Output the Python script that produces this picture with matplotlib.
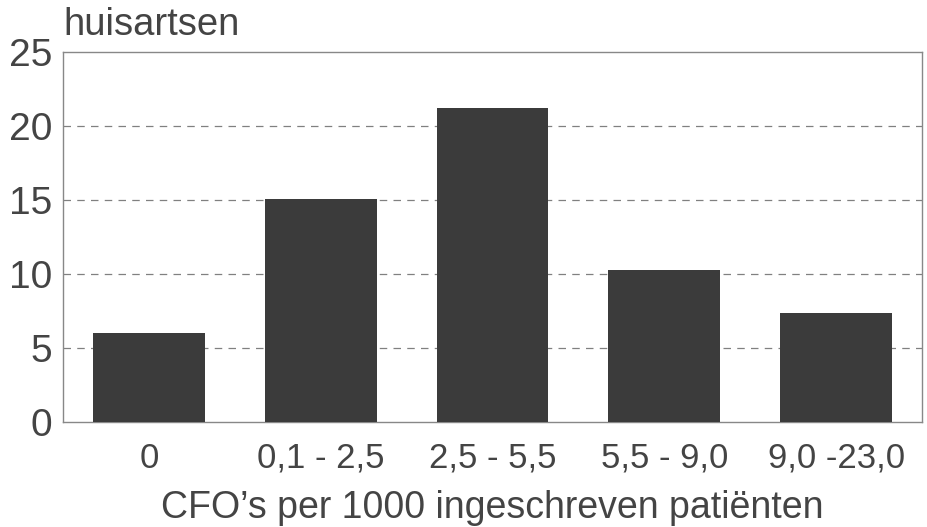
import matplotlib.pyplot as plt
import numpy as np

# data
categories = ['0', '0,1 - 2,5', '2,5 - 5,5', '5,5 - 9,0', '9,0 -23,0']
huisartsen = [6.0, 15.1, 21.2, 10.3, 7.4]
yticks = [0, 5, 10, 15, 20, 25]

plt.rcParams['font.family'] = ['Liberation Sans', 'DejaVu Sans']
text_col = '#444444'
bar_col = '#3b3b3b'

fig = plt.figure(figsize=(9.27, 5.27), dpi=100)
ax = fig.add_axes([0.068, 0.199, 0.9266, 0.7023])

x = np.arange(len(categories))
ax.bar(x, huisartsen, width=0.65, color=bar_col, zorder=3)

# dashed gridlines behind the bars
for v in yticks[1:-1]:
    ax.axhline(v, color='#808080', lw=0.9, ls=(0, (6, 5)), zorder=1)

ax.set_xlim(-0.5, 4.5)
ax.set_ylim(0, 25)
ax.set_xticks(x)
ax.set_xticklabels(categories, fontsize=25, color=text_col)
ax.set_yticks(yticks)
ax.set_yticklabels([str(v) for v in yticks], fontsize=28, color=text_col)
ax.tick_params(length=0, pad=8)
ax.tick_params(axis='x', pad=14)

for s in ax.spines.values():
    s.set_color('#888888')
    s.set_linewidth(1.0)

ax.set_xlabel("CFO\u2019s per 1000 ingeschreven pati\u00ebnten", fontsize=27,
              color=text_col, labelpad=11)
fig.text(0.068, 0.934, 'huisartsen', fontsize=27.5, color=text_col, ha='left', va='baseline')

fig.savefig('out.png', dpi=100)
